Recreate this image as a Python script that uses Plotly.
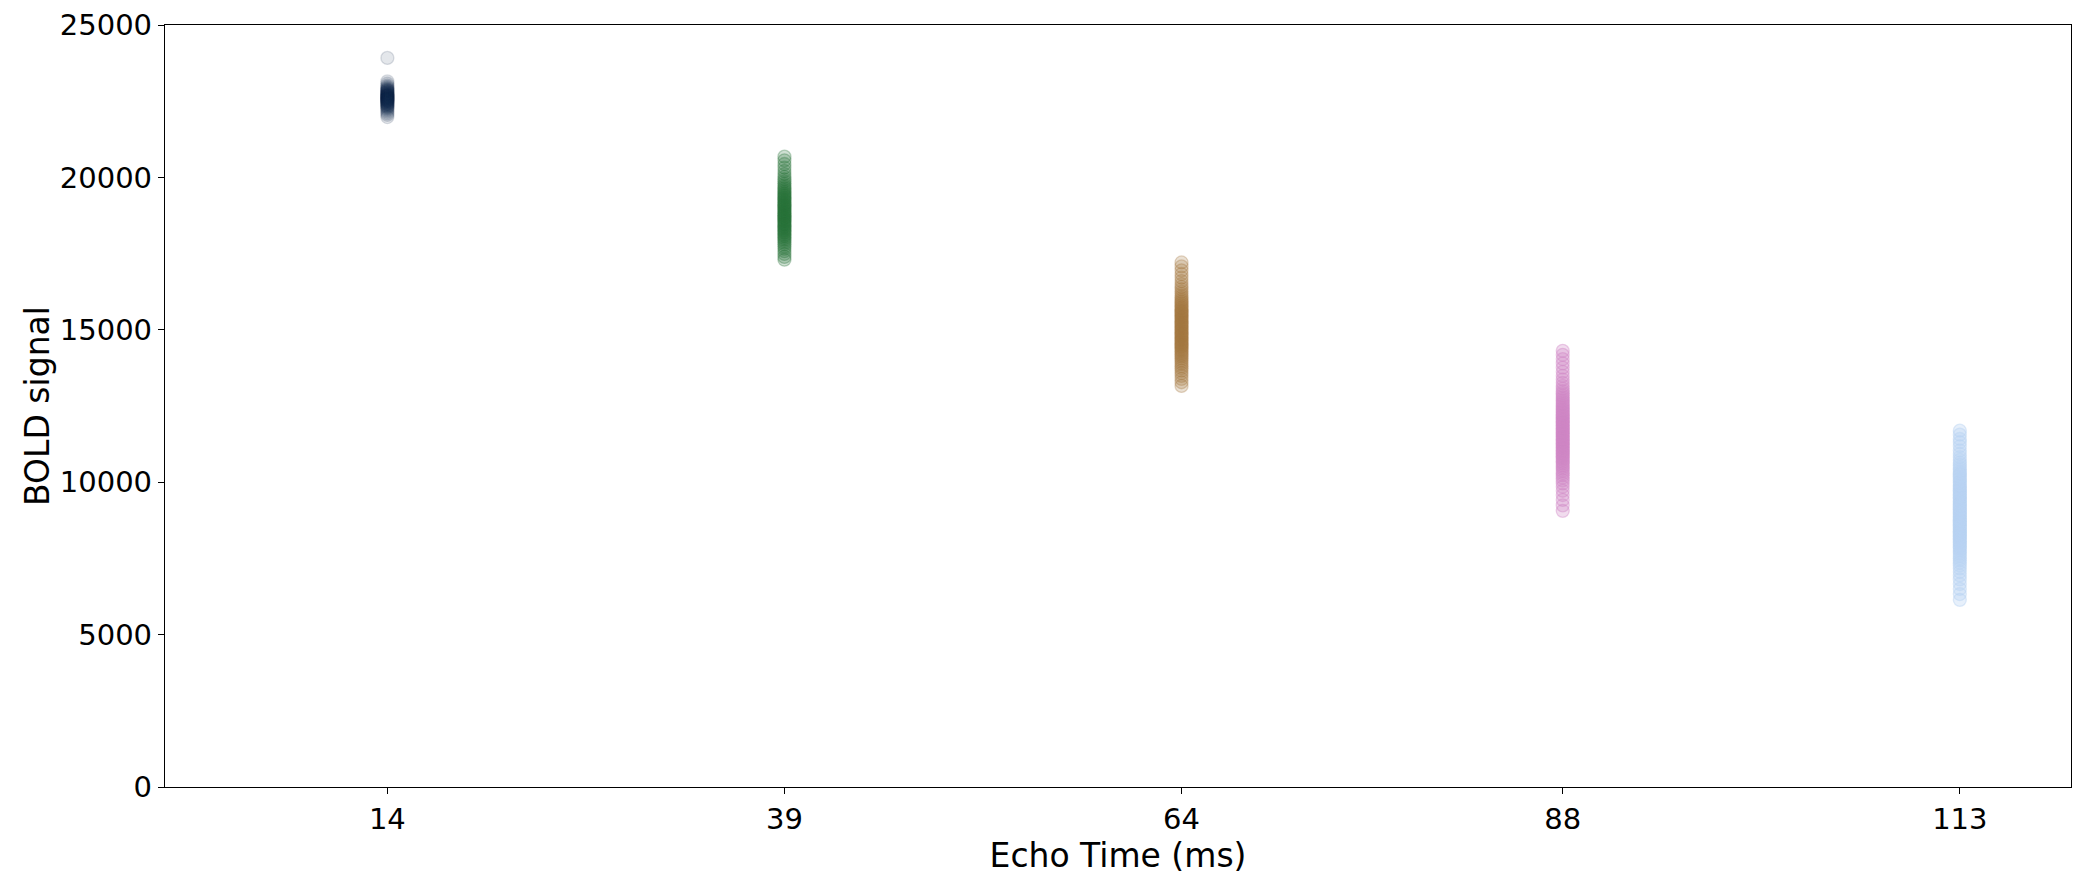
import plotly.graph_objects as go

echo_times = [14, 39, 64, 88, 113]
tick_labels = ["14", "39", "64", "88", "113"]
colors = ["#152a4b", "#236f35", "#a2743c", "#cf84c5", "#b8d2f2"]

signal_14 = [23920, 23150, 23080, 23020, 22980, 22950, 22920, 22900, 22880, 22860, 22850, 22830,
             22810, 22800, 22780, 22770, 22750, 22740, 22720, 22710, 22700, 22690, 22680, 22670,
             22660, 22650, 22640, 22630, 22620, 22610, 22600, 22590, 22580, 22570, 22560, 22550,
             22540, 22530, 22520, 22510, 22500, 22490, 22470, 22460, 22440, 22430, 22410, 22400,
             22380, 22360, 22340, 22320, 22300, 22270, 22240, 22200, 22150, 22100, 22050, 21980]
signal_39 = [20680, 20560, 20440, 20320, 20210, 20110, 20020, 19940, 19870, 19800, 19740, 19680,
             19630, 19580, 19530, 19480, 19440, 19400, 19360, 19320, 19280, 19240, 19200, 19160,
             19120, 19090, 19050, 19010, 18980, 18940, 18900, 18870, 18830, 18800, 18760, 18730,
             18690, 18660, 18620, 18580, 18550, 18510, 18470, 18440, 18400, 18360, 18320, 18280,
             18240, 18200, 18160, 18110, 18070, 18020, 17970, 17920, 17860, 17800, 17730, 17660,
             17580, 17490, 17390, 17300]
signal_64 = [17210, 17080, 16950, 16830, 16710, 16600, 16500, 16410, 16330, 16250, 16180, 16110,
             16050, 15990, 15940, 15890, 15840, 15790, 15740, 15700, 15650, 15610, 15570, 15530,
             15490, 15450, 15410, 15370, 15330, 15290, 15250, 15210, 15170, 15130, 15090, 15050,
             15010, 14970, 14930, 14890, 14850, 14810, 14770, 14730, 14690, 14650, 14610, 14570,
             14530, 14490, 14450, 14410, 14360, 14320, 14270, 14220, 14170, 14120, 14060, 14000,
             13940, 13880, 13810, 13740, 13660, 13580, 13490, 13390, 13280, 13160]
signal_88 = [14310, 14180, 14040, 13900, 13760, 13620, 13490, 13370, 13260, 13160, 13070, 12990,
             12920, 12850, 12790, 12730, 12670, 12610, 12560, 12500, 12450, 12400, 12350, 12300,
             12250, 12200, 12160, 12110, 12060, 12020, 11970, 11930, 11880, 11840, 11790, 11750,
             11700, 11660, 11610, 11570, 11520, 11480, 11430, 11390, 11340, 11300, 11250, 11210,
             11160, 11120, 11070, 11020, 10980, 10930, 10880, 10830, 10780, 10730, 10670, 10620,
             10560, 10500, 10440, 10370, 10300, 10230, 10150, 10060, 9960, 9850, 9720, 9580,
             9420, 9240, 9060]
signal_113 = [11690, 11560, 11420, 11310, 11180, 11040, 10930, 10820, 10730, 10640, 10570, 10490,
              10430, 10360, 10300, 10250, 10190, 10130, 10080, 10020, 9970, 9910, 9870, 9820,
              9760, 9720, 9670, 9620, 9580, 9530, 9480, 9440, 9390, 9350, 9300, 9260, 9210,
              9170, 9120, 9080, 9030, 8990, 8940, 8900, 8860, 8810, 8770, 8720, 8680, 8640,
              8590, 8550, 8500, 8460, 8410, 8370, 8320, 8280, 8230, 8190, 8140, 8090, 8040,
              7990, 7940, 7880, 7830, 7770, 7710, 7650, 7580, 7510, 7440, 7360, 7270, 7170,
              7060, 6940, 6810, 6660, 6500, 6330, 6140]

signals = [signal_14, signal_39, signal_64, signal_88, signal_113]
alphas = [0.15, 0.3, 0.3, 0.38, 0.45]


def rgba(hex_color, a):
    h = hex_color.lstrip("#")
    r, g, b = int(h[0:2], 16), int(h[2:4], 16), int(h[4:6], 16)
    return f"rgba({r},{g},{b},{a})"


fig = go.Figure()
for te, vals, col, a in zip(echo_times, signals, colors, alphas):
    fig.add_trace(go.Scatter(
        x=[te] * len(vals), y=vals, mode="markers",
        marker=dict(size=13, color=rgba(col, a * 0.75),
                    line=dict(color=rgba(col, a), width=1.3)),
        showlegend=False, hoverinfo="skip"))

axis_common = dict(showline=True, linecolor="black", linewidth=1.3, mirror=True,
                   ticks="outside", ticklen=6, tickwidth=1.3, tickcolor="black",
                   showgrid=False, zeroline=False, automargin=False,
                   tickfont=dict(family="DejaVu Sans", size=29, color="black"))

fig.update_layout(
    width=2071, height=871,
    margin=dict(l=157, r=8, t=17, b=92),
    plot_bgcolor="white", paper_bgcolor="white",
    xaxis=dict(range=[0, 120], tickvals=echo_times, ticktext=tick_labels,
               title=dict(text="Echo Time (ms)", standoff=6,
                          font=dict(family="DejaVu Sans", size=33, color="black")),
               **axis_common),
    yaxis=dict(range=[0, 25000], tickvals=[0, 5000, 10000, 15000, 20000, 25000],
               ticktext=["0", "5000", "10000", "15000", "20000", "25000"],
               title=dict(text="BOLD signal", standoff=0,
                          font=dict(family="DejaVu Sans", size=33, color="black")),
               **axis_common),
)

fig.write_html("out.html")
